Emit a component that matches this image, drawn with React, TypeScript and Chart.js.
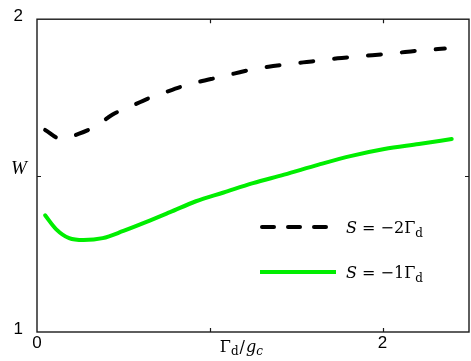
import React, { useEffect, useRef } from "react";
import { Chart, registerables } from "chart.js";

Chart.register(...registerables);

const xS2 = [0.047, 0.14, 0.24, 0.34, 0.44, 0.53, 0.645, 0.74, 0.84, 0.94, 1.04, 1.14, 1.24, 1.34, 1.44, 1.54, 1.64, 1.74, 1.84, 1.94, 2.04, 2.13, 2.24, 2.36];
const yS2 = [1.646, 1.617, 1.633, 1.658, 1.696, 1.718, 1.747, 1.766, 1.785, 1.8, 1.813, 1.826, 1.839, 1.848, 1.855, 1.862, 1.868, 1.875, 1.88, 1.885, 1.89, 1.895, 1.901, 1.906];

const xS1 = [0.047, 0.11, 0.186, 0.27, 0.38, 0.5, 0.63, 0.77, 0.92, 1.08, 1.25, 1.43, 1.63, 1.82, 2.01, 2.21, 2.4];
const yS1 = [1.373, 1.329, 1.3, 1.294, 1.3, 1.323, 1.351, 1.383, 1.418, 1.446, 1.476, 1.503, 1.535, 1.563, 1.585, 1.601, 1.617];

const xTicks = [0, 1, 2];
const yTicks = [1, 1.5, 2];

const SERIF = "'DejaVu Serif', 'Liberation Serif', serif";
const SHIFT = 5;

const framePlugin = {
  id: "frame",
  afterDraw(chart: any) {
    const { ctx, chartArea: a, scales } = chart;
    const xs = scales.x;
    const ys = scales.y;
    ctx.save();
    ctx.strokeStyle = "#1a1a1a";
    ctx.lineWidth = 1.4;
    ctx.strokeRect(a.left, a.top, a.right - a.left, a.bottom - a.top);
    ctx.lineWidth = 1.2;
    [1, 2].forEach((v) => {
      const px = Math.round(xs.getPixelForValue(v)) + 0.5;
      ctx.beginPath();
      ctx.moveTo(px, a.bottom);
      ctx.lineTo(px, a.bottom - 4);
      ctx.moveTo(px, a.top);
      ctx.lineTo(px, a.top + 4);
      ctx.stroke();
    });
    const py = Math.round(ys.getPixelForValue(1.5)) + 0.5;
    ctx.beginPath();
    ctx.moveTo(a.left, py);
    ctx.lineTo(a.left + 4, py);
    ctx.moveTo(a.right, py);
    ctx.lineTo(a.right - 4, py);
    ctx.stroke();

    ctx.fillStyle = "#000";
    ctx.textBaseline = "alphabetic";
    let x0 = xs.getPixelForValue(1) + 10;
    const base = a.bottom + 20;
    ctx.font = "16px " + SERIF;
    ctx.fillText("Γ", x0, base);
    x0 += ctx.measureText("Γ").width;
    ctx.font = "12px " + SERIF;
    ctx.fillText("d", x0, base + 3);
    x0 += ctx.measureText("d").width + 1;
    ctx.font = "16px " + SERIF;
    ctx.fillText("/", x0, base);
    x0 += ctx.measureText("/").width + 1;
    ctx.font = "italic 16px " + SERIF;
    ctx.fillText("g", x0, base);
    x0 += ctx.measureText("g").width;
    ctx.font = "italic 12px " + SERIF;
    ctx.fillText("c", x0, base + 3);

    ctx.font = "italic 19px 'Liberation Serif', serif";
    ctx.textAlign = "center";
    ctx.fillText("W", 19, ys.getPixelForValue(1.5) - 2);

    ctx.textAlign = "left";
    const drawEntry = (y: number, dashed: boolean, color: string, num: string) => {
      ctx.strokeStyle = color;
      ctx.lineWidth = 4;
      ctx.lineCap = dashed ? "round" : "butt";
      ctx.setLineDash(dashed ? [12, 14] : []);
      ctx.beginPath();
      ctx.moveTo(dashed ? 262 : 260, y);
      ctx.lineTo(336, y);
      ctx.stroke();
      ctx.setLineDash([]);
      let tx = 346;
      const tb = y + 6;
      ctx.fillStyle = "#000";
      ctx.font = "italic 16px " + SERIF;
      ctx.fillText("S", tx, tb);
      tx += ctx.measureText("S").width;
      ctx.font = "16px " + SERIF;
      const s = " = \u2212" + num + "Γ";
      ctx.fillText(s, tx, tb);
      tx += ctx.measureText(s).width;
      ctx.font = "12px " + SERIF;
      ctx.fillText("d", tx, tb + 4);
    };
    drawEntry(227 + SHIFT, true, "#000", "2");
    drawEntry(272 + SHIFT, false, "#00ee00", "1");
    ctx.restore();
  },
};

export default function App() {
  const ref = useRef<HTMLCanvasElement>(null);
  useEffect(() => {
    if (!ref.current) return;
    const chart = new Chart(ref.current, {
      type: "line",
      data: {
        datasets: [
          {
            label: "S = -2Γd",
            data: xS2.map((x, i) => ({ x, y: yS2[i] })),
            borderColor: "#000",
            borderWidth: 4,
            borderDash: [13, 21],
            borderCapStyle: "round",
            pointRadius: 0,
            cubicInterpolationMode: "monotone",
          },
          {
            label: "S = -1Γd",
            data: xS1.map((x, i) => ({ x, y: yS1[i] })),
            borderColor: "#00ee00",
            borderWidth: 4,
            borderCapStyle: "round",
            pointRadius: 0,
            cubicInterpolationMode: "monotone",
          },
        ],
      },
      plugins: [framePlugin],
      options: {
        animation: false,
        responsive: true,
        maintainAspectRatio: false,
        layout: { padding: { top: 9, right: 2, left: 0, bottom: 0 } },
        plugins: { legend: { display: false }, tooltip: { enabled: false } },
        scales: {
          x: {
            type: "linear",
            min: 0,
            max: 2.5,
            afterBuildTicks: (s: any) => {
              s.ticks = xTicks.map((v) => ({ value: v }));
            },
            afterFit: (s: any) => {
              s.height = 29;
            },
            grid: { display: false, drawTicks: false },
            border: { display: false },
            ticks: {
              padding: 1,
              color: "#000",
              font: { family: "'Liberation Sans', Arial, sans-serif", size: 17 },
              maxRotation: 0,
              autoSkip: false,
              callback: (v: any) => (v === 1 ? "" : String(v)),
            },
          },
          y: {
            type: "linear",
            min: 1,
            max: 2,
            afterBuildTicks: (s: any) => {
              s.ticks = yTicks.map((v) => ({ value: v }));
            },
            afterFit: (s: any) => {
              s.width = 37;
            },
            grid: { display: false, drawTicks: false },
            border: { display: false },
            ticks: {
              padding: 14,
              color: "#000",
              labelOffset: -3,
              font: { family: "'Liberation Sans', Arial, sans-serif", size: 17 },
              autoSkip: false,
              callback: (v: any) => (v === 1.5 ? "" : String(v)),
            },
          },
        },
      },
    } as any);
    return () => chart.destroy();
  }, []);
  return (
    <div style={{ position: "fixed", left: 0, top: -SHIFT, width: 471, height: 361 + SHIFT, background: "#fff" }}>
      <canvas ref={ref} />
    </div>
  );
}
